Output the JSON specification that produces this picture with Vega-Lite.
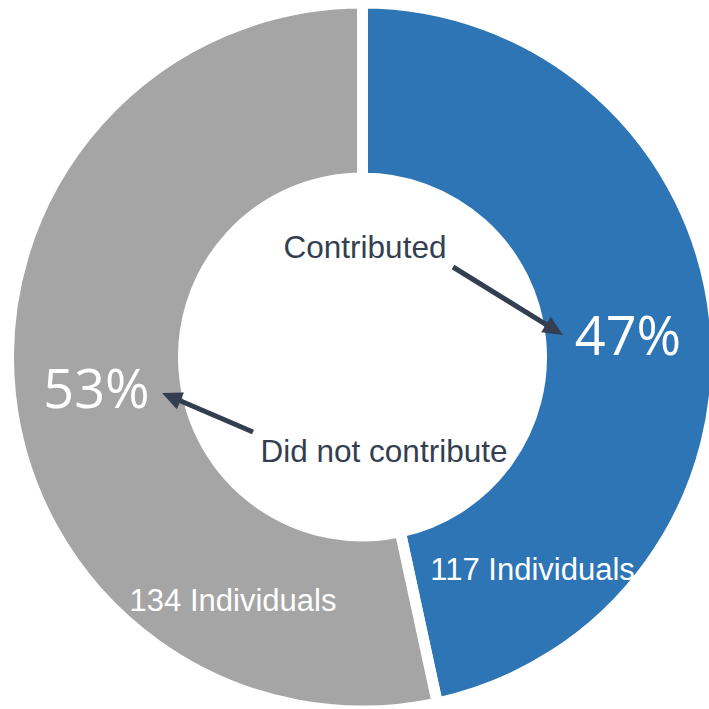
{
  "$schema": "https://vega.github.io/schema/vega-lite/v6.json",
  "width": 693,
  "height": 704,
  "padding": {"left": 16, "top": 5, "right": 0, "bottom": 0},
  "autosize": {"type": "none"},
  "background": "white",
  "config": {"view": {"stroke": null}},
  "layer": [
    {
      "data": {"values": [
        {"group": "Contributed", "count": 117},
        {"group": "Did not contribute", "count": 134}
      ]},
      "mark": {"type": "arc", "outerRadius": 354, "innerRadius": 179, "stroke": "white", "strokeWidth": 11},
      "encoding": {
        "theta": {"field": "count", "type": "quantitative", "stack": true},
        "color": {"field": "group", "type": "nominal", "legend": null,
          "scale": {"domain": ["Contributed", "Did not contribute"], "range": ["#2E75B6", "#A5A5A5"]}},
        "order": {"field": "group", "sort": "ascending"}
      }
    },
    {
      "data": {"values": [
        {"label": "47%", "x": 265.5, "y": 2},
        {"label": "53%", "x": -266, "y": -51}
      ]},
      "mark": {"type": "text", "font": "Open Sans", "fontWeight": 400, "fontSize": 54, "color": "white", "align": "center", "baseline": "alphabetic"},
      "encoding": {
        "x": {"field": "x", "type": "quantitative", "axis": null, "scale": {"domain": [-346.5, 346.5]}},
        "y": {"field": "y", "type": "quantitative", "axis": null, "scale": {"domain": [-352, 352]}},
        "text": {"field": "label"}
      }
    },
    {
      "data": {"values": [
        {"label": "117 Individuals", "x": 170, "y": -223},
        {"label": "134 Individuals", "x": -129.5, "y": -254}
      ]},
      "mark": {"type": "text", "font": "Liberation Sans", "fontSize": 31, "color": "white", "align": "center", "baseline": "alphabetic"},
      "encoding": {
        "x": {"field": "x", "type": "quantitative", "axis": null, "scale": {"domain": [-346.5, 346.5]}},
        "y": {"field": "y", "type": "quantitative", "axis": null, "scale": {"domain": [-352, 352]}},
        "text": {"field": "label"}
      }
    },
    {
      "data": {"values": [
        {"label": "Contributed", "x": 2.5, "y": 99},
        {"label": "Did not contribute", "x": 21.5, "y": -105}
      ]},
      "mark": {"type": "text", "font": "Liberation Sans", "fontSize": 31.5, "color": "#333F50", "align": "center", "baseline": "alphabetic"},
      "encoding": {
        "x": {"field": "x", "type": "quantitative", "axis": null, "scale": {"domain": [-346.5, 346.5]}},
        "y": {"field": "y", "type": "quantitative", "axis": null, "scale": {"domain": [-352, 352]}},
        "text": {"field": "label"}
      }
    },
    {
      "data": {"values": [
        {"arrow": "Contributed", "x": 90.5, "y": 90, "x2": 188.6, "y2": 29.4},
        {"arrow": "Did not contribute", "x": -109.5, "y": -75, "x2": -187.6, "y2": -41.5}
      ]},
      "mark": {"type": "rule", "color": "#333F50", "strokeWidth": 5},
      "encoding": {
        "x": {"field": "x", "type": "quantitative", "axis": null, "scale": {"domain": [-346.5, 346.5]}},
        "y": {"field": "y", "type": "quantitative", "axis": null, "scale": {"domain": [-352, 352]}},
        "x2": {"field": "x2"},
        "y2": {"field": "y2"}
      }
    },
    {
      "data": {"values": [
        {"arrow": "Contributed", "x": 200.5, "y": 22}
      ]},
      "mark": {"type": "point", "shape": "M0,0L-0.45,1L0.45,1Z", "filled": true, "opacity": 1, "size": 1600, "angle": 121.7, "color": "#333F50"},
      "encoding": {
        "x": {"field": "x", "type": "quantitative", "axis": null, "scale": {"domain": [-346.5, 346.5]}},
        "y": {"field": "y", "type": "quantitative", "axis": null, "scale": {"domain": [-352, 352]}}
      }
    },
    {
      "data": {"values": [
        {"arrow": "Did not contribute", "x": -200.5, "y": -36}
      ]},
      "mark": {"type": "point", "shape": "M0,0L-0.45,1L0.45,1Z", "filled": true, "opacity": 1, "size": 1600, "angle": 293.2, "color": "#333F50"},
      "encoding": {
        "x": {"field": "x", "type": "quantitative", "axis": null, "scale": {"domain": [-346.5, 346.5]}},
        "y": {"field": "y", "type": "quantitative", "axis": null, "scale": {"domain": [-352, 352]}}
      }
    }
  ]
}
